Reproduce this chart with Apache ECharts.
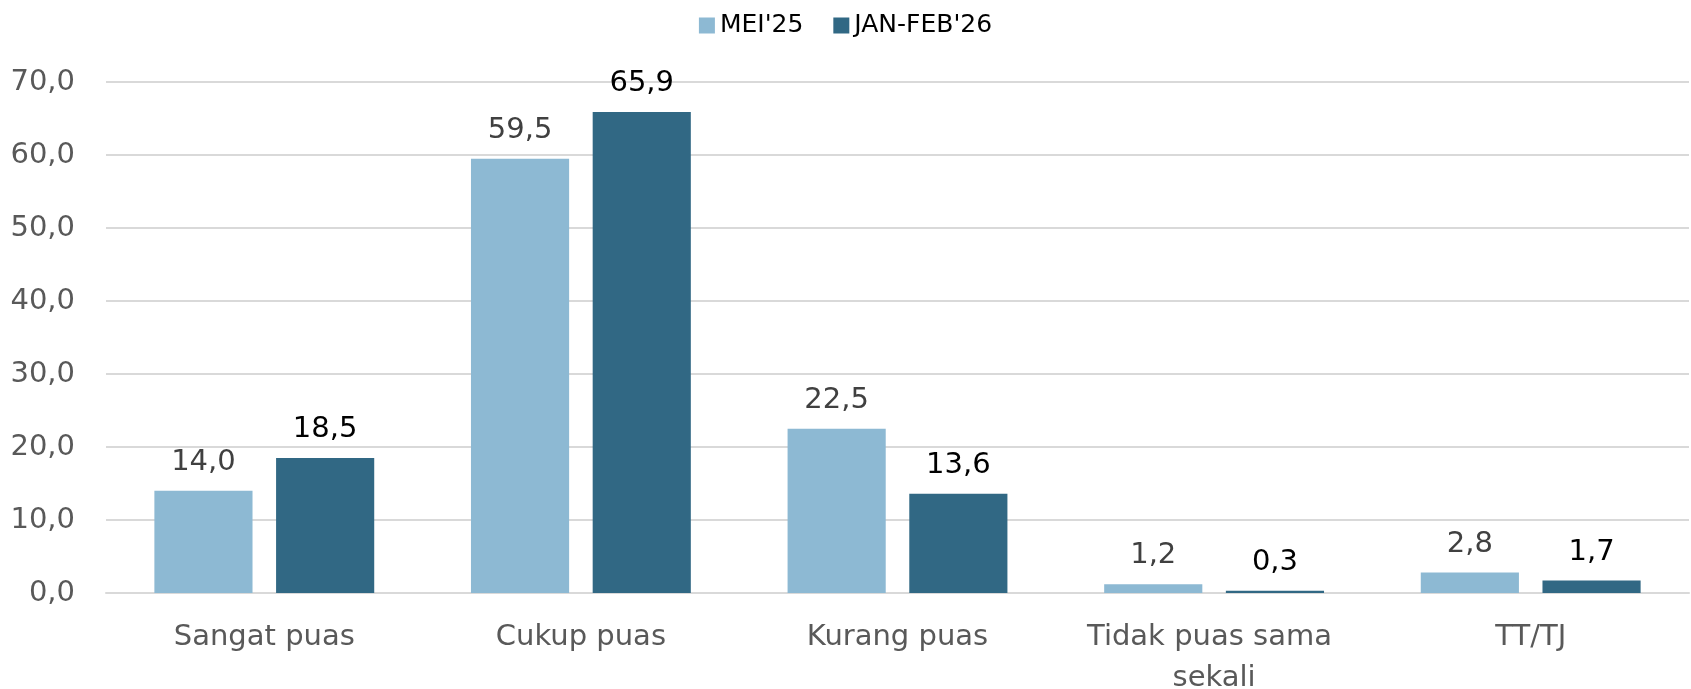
<!DOCTYPE html>
<html>
<head>
<meta charset="utf-8">
<script src="https://cdn.jsdelivr.net/npm/echarts@6/dist/echarts.min.js"></script>
<style>
  html, body { margin: 0; padding: 0; background: #fff; }
  #chart { width: 1691px; height: 689px; }
</style>
</head>
<body>
<div id="chart"></div>
<script>
// data
const categories = ['Sangat puas', 'Cukup puas', 'Kurang puas', 'Tidak puas sama sekali', 'TT/TJ']
const seriesNames = ["MEI'25", "JAN-FEB'26"]
const mei25 = [14.0, 59.5, 22.5, 1.2, 2.8]
const janFeb26 = [18.5, 65.9, 13.6, 0.3, 1.7]

const fontFamily = '"DejaVu Sans", sans-serif'
const fmt = v => Number(v).toFixed(1).replace('.', ',')

const chart = echarts.init(document.getElementById('chart'))
const option = {
    animation: false,
    textStyle: { fontFamily: fontFamily },
    legend: {
        top: 8,
        left: 'center',
        icon: 'rect',
        itemWidth: 16,
        itemHeight: 16,
        itemGap: 30,
        textStyle: { fontSize: 25, color: '#000', fontFamily: fontFamily },
        data: seriesNames
    },
    grid: { left: 106, right: 2, top: 82, bottom: 96, outerBoundsMode: 'none', containLabel: false },
    xAxis: {
        type: 'category',
        data: categories,
        axisLine: { lineStyle: { color: '#D9D9D9', width: 2 } },
        axisTick: { show: false },
        axisLabel: {
            interval: 0,
            fontSize: 29,
            color: '#595959',
            margin: 24,
            lineHeight: 41,
            width: 290,
            overflow: 'break',
            fontFamily: fontFamily
        }
    },
    yAxis: {
        type: 'value',
        min: 0,
        max: 70,
        interval: 10,
        axisLine: { show: false },
        axisTick: { show: false },
        splitLine: { lineStyle: { color: '#D9D9D9', width: 2 } },
        axisLabel: {
            fontSize: 29,
            color: '#595959',
            margin: 31,
            formatter: fmt,
            fontFamily: fontFamily
        }
    },
    series: [
        {
            name: seriesNames[0],
            type: 'bar',
            data: mei25,
            barWidth: '31%',
            barGap: '24%',
            itemStyle: { color: '#8DB9D3' },
            label: {
                show: true,
                position: 'top',
                distance: 14,
                fontSize: 29,
                color: '#404040',
                formatter: p => fmt(p.value),
                fontFamily: fontFamily
            }
        },
        {
            name: seriesNames[1],
            type: 'bar',
            data: janFeb26,
            barWidth: '31%',
            itemStyle: { color: '#316884' },
            label: {
                show: true,
                position: 'top',
                distance: 14,
                fontSize: 29,
                color: '#000',
                formatter: p => fmt(p.value),
                fontFamily: fontFamily
            }
        }
    ]
}
chart.setOption(option)
window.onresize = function () {
    chart.resize()
}
</script>
</body>
</html>
